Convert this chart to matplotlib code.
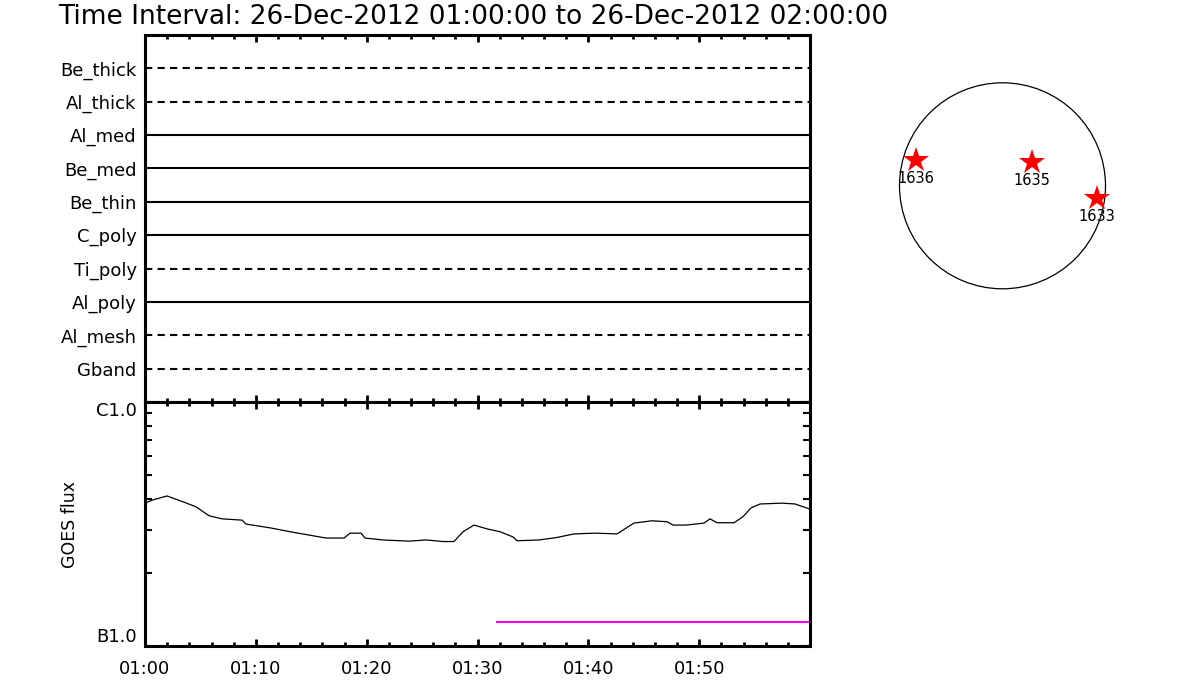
import matplotlib
matplotlib.use("Agg")
import matplotlib.pyplot as plt
from matplotlib.patches import Circle
from matplotlib.ticker import MultipleLocator, LogLocator, NullFormatter

plt.rcParams['font.family'] = ['DejaVu Sans']

title = 'Time Interval: 26-Dec-2012 01:00:00 to 26-Dec-2012 02:00:00'

# filter channels, top to bottom
channels = ['Be_thick', 'Al_thick', 'Al_med', 'Be_med', 'Be_thin',
            'C_poly', 'Ti_poly', 'Al_poly', 'Al_mesh', 'Gband']
dashed = [True, True, False, False, False, False, True, False, True, True]

# minutes after 01:00
tick_pos = [0, 10, 20, 30, 40, 50]
tick_labels = ['01:00', '01:10', '01:20', '01:30', '01:40', '01:50']

# GOES flux (W/m^2)
goes_t = [0.0, 0.72, 1.99, 3.43, 4.60, 5.77, 6.95, 8.75, 9.11, 11.28, 13.26,
          15.16, 16.33, 17.96, 18.50, 19.49, 19.85, 21.47, 23.82, 25.35,
          26.89, 27.88, 28.69, 29.69, 30.86, 32.03, 33.20, 33.57, 35.55,
          37.08, 38.71, 40.60, 42.59, 44.12, 45.75, 47.10, 47.64, 48.82,
          50.44, 50.98, 51.61, 53.15, 53.96, 54.68, 55.50, 57.48, 58.65, 60.0]
goes_f = [3.85e-7, 3.97e-7, 4.12e-7, 3.90e-7, 3.72e-7, 3.42e-7, 3.32e-7,
          3.28e-7, 3.16e-7, 3.05e-7, 2.93e-7, 2.83e-7, 2.77e-7, 2.77e-7,
          2.90e-7, 2.90e-7, 2.77e-7, 2.72e-7, 2.69e-7, 2.72e-7, 2.68e-7,
          2.68e-7, 2.94e-7, 3.13e-7, 3.02e-7, 2.94e-7, 2.80e-7, 2.70e-7,
          2.72e-7, 2.78e-7, 2.88e-7, 2.90e-7, 2.88e-7, 3.19e-7, 3.26e-7,
          3.23e-7, 3.13e-7, 3.13e-7, 3.19e-7, 3.32e-7, 3.20e-7, 3.20e-7,
          3.39e-7, 3.68e-7, 3.82e-7, 3.85e-7, 3.82e-7, 3.64e-7]

# magenta bar
bar_t = [31.8, 60.0]
bar_f = [1.25e-7, 1.25e-7]

# active regions on the disk (arcsec)
ar_names = ['1636', '1635', '1633']
ar_x = [-806, 275, 881]
ar_y = [240, 225, -111]
r_sun = 960

fig = plt.figure(figsize=(12, 7), dpi=100)
fig.text(58 / 1200, 1 - 24 / 700, title, fontsize=19, va='baseline', ha='left')

# --- top panel: channels
ax1 = fig.add_axes([145 / 1200, 1 - 402 / 700, 665 / 1200, 367 / 700])
n = len(channels)
ypos = list(range(n, 0, -1))
for name, y, d in zip(channels, ypos, dashed):
    ax1.hlines(y, 0, 60, colors='black', linewidth=1.5,
               linestyles=(0, (3.5, 2.5)) if d else 'solid')
ax1.set_xlim(0, 60)
ax1.set_ylim(0, n + 1)
ax1.set_yticks(ypos)
ax1.set_yticklabels(channels, fontsize=13)
ax1.tick_params(axis='y', length=0, pad=6)
ax1.xaxis.set_major_locator(MultipleLocator(10))
ax1.xaxis.set_minor_locator(MultipleLocator(2))
ax1.tick_params(axis='x', which='both', direction='in', top=True, bottom=True,
                labelbottom=False, width=2)
ax1.tick_params(axis='x', which='major', length=5)
ax1.tick_params(axis='x', which='minor', length=3)
for s in ax1.spines.values():
    s.set_linewidth(2.2)

# --- bottom panel: GOES
ax2 = fig.add_axes([145 / 1200, 1 - 646 / 700, 665 / 1200, 244 / 700])
ax2.plot(goes_t, goes_f, color='black', linewidth=0.9)
ax2.plot(bar_t, bar_f, color='#ff00ff', linewidth=1.5)
ax2.set_yscale('log')
ax2.set_ylim(1e-7, 1e-6)
ax2.set_xlim(0, 60)
ax2.set_yticks([1e-7, 1e-6])
ax2.set_yticklabels(['B1.0', 'C1.0'], fontsize=13)
ylabs = ax2.get_yticklabels()
ylabs[0].set_verticalalignment('bottom')
ylabs[1].set_verticalalignment('top')
ax2.yaxis.set_minor_locator(LogLocator(base=10, subs=range(2, 10)))
ax2.yaxis.set_minor_formatter(NullFormatter())
ax2.tick_params(axis='y', which='both', direction='in', left=True, right=True,
                width=1.5, pad=6)
ax2.tick_params(axis='y', which='major', length=7)
ax2.tick_params(axis='y', which='minor', length=5)
ax2.set_xticks(tick_pos)
ax2.set_xticklabels(tick_labels, fontsize=13)
ax2.xaxis.set_minor_locator(MultipleLocator(2))
ax2.tick_params(axis='x', which='both', direction='in', top=True, bottom=True,
                width=2, pad=10)
ax2.tick_params(axis='x', which='major', length=5)
ax2.tick_params(axis='x', which='minor', length=3)
ax2.set_ylabel('GOES flux', fontsize=12.5, labelpad=12)
for s in ax2.spines.values():
    s.set_linewidth(2.2)

# --- solar disk
half = r_sun * 120 / 103
ax3 = fig.add_axes([(1002.5 - 120) / 1200, 1 - (185.8 + 120) / 700, 240 / 1200, 240 / 700])
ax3.add_patch(Circle((0, 0), r_sun, fill=False, edgecolor='black', linewidth=0.9))
ax3.plot(ar_x, ar_y, linestyle='none', marker='*', markersize=19,
         color='red', markeredgewidth=0)
for name, x, y in zip(ar_names, ar_x, ar_y):
    ax3.annotate(name, (x, y), xytext=(0, -8), textcoords='offset points',
                 ha='center', va='top', fontsize=10.5)
ax3.set_xlim(-half, half)
ax3.set_ylim(-half, half)
ax3.set_aspect('equal')
ax3.axis('off')

fig.savefig('out.png', dpi=100)
